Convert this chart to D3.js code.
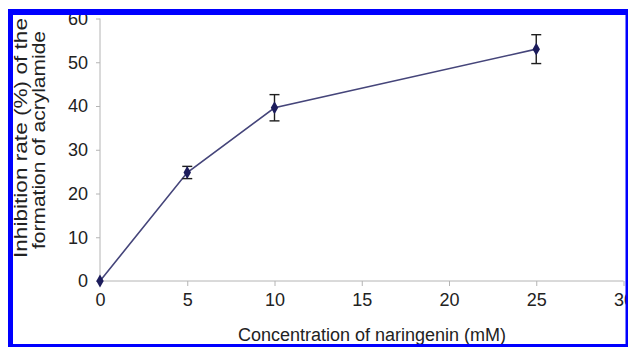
<!DOCTYPE html>
<html>
<head>
<meta charset="utf-8">
<script src="https://cdn.jsdelivr.net/npm/d3@7"></script>
<style>
  body { margin: 0; background: #fff; }
  text { font-family: "Liberation Sans", Arial, sans-serif; fill: #222; }
</style>
</head>
<body>
<div class="container"></div>
<script>
const concentrations = [0, 5, 10, 25]
const inhibition = [0, 24.8, 39.6, 53.0]
const errors = [0, 1.4, 3.0, 3.3]
const xTicks = [0, 5, 10, 15, 20, 25, 30]
const yTicks = [0, 10, 20, 30, 40, 50, 60]
const xTitle = "Concentration of naringenin (mM)"
const yTitle = ["Inhibition rate (%) of the", "formation of acrylamide"]

const width = 628
const height = 347

const dataSet = concentrations.map((c, i) => ({ x: c, y: inhibition[i], err: errors[i] }))

const svg = d3.select(".container").append("svg")
    .attr("width", width)
    .attr("height", height)

const xScale = d3.scaleLinear()
                .domain([0, 30])
                .range([100, 623.5])

const yScale = d3.scaleLinear()
                .domain([0, 60])
                .range([281, 18.5])

const axisColor = "#b4b4b4"

// axes
const xAxis = d3.axisBottom(xScale).tickValues(xTicks).tickSize(5).tickPadding(7)
const yAxis = d3.axisLeft(yScale).tickValues(yTicks).tickSize(4).tickPadding(8)

const gx = svg.append("g")
    .attr("id", "x-axis")
    .attr("transform", `translate(0,${yScale(0)})`)
    .call(xAxis)

const gy = svg.append("g")
    .attr("id", "y-axis")
    .attr("transform", `translate(${xScale(0)},0)`)
    .call(yAxis)

gx.select(".domain").attr("stroke", axisColor).attr("d", `M${xScale(0)},0H${xScale(30)}`)
gy.select(".domain").attr("stroke", axisColor).attr("d", `M0,${yScale(0)}V${yScale(60)}`)
svg.selectAll(".tick line").attr("stroke", axisColor)
svg.selectAll(".tick text")
    .attr("fill", "#222")
    .style("font-size", "18px")
    .style("font-family", "'Liberation Sans', Arial, sans-serif")

// axis titles
svg.append("text")
    .attr("x", 372)
    .attr("y", 341)
    .attr("text-anchor", "middle")
    .style("font-size", "18px")
    .text(xTitle)

svg.selectAll(".ytitle")
    .data(yTitle)
    .enter()
    .append("text")
    .attr("class", "ytitle")
    .attr("transform", (d, i) => `translate(${27 + i * 18},${138 + i * 2}) rotate(-90)`)
    .attr("text-anchor", "middle")
    .attr("textLength", (d, i) => i == 0 ? 240 : 218)
    .attr("lengthAdjust", "spacingAndGlyphs")
    .style("font-size", "18px")
    .text(d => d)

// series line
const line = d3.line()
    .x(d => xScale(d.x))
    .y(d => yScale(d.y))

svg.append("path")
    .datum(dataSet)
    .attr("d", line)
    .attr("fill", "none")
    .attr("stroke", "#45457a")
    .attr("stroke-width", 1.6)

// error bars
const bars = svg.selectAll(".err")
    .data(dataSet.filter(d => d.err > 0))
    .enter()
    .append("g")
    .attr("class", "err")
    .attr("stroke", "#1e1e1e")
    .attr("stroke-width", 1.4)

bars.append("line")
    .attr("x1", d => xScale(d.x))
    .attr("x2", d => xScale(d.x))
    .attr("y1", d => yScale(d.y + d.err))
    .attr("y2", d => yScale(d.y - d.err))

bars.append("line")
    .attr("x1", d => xScale(d.x) - 5)
    .attr("x2", d => xScale(d.x) + 5)
    .attr("y1", d => yScale(d.y + d.err))
    .attr("y2", d => yScale(d.y + d.err))

bars.append("line")
    .attr("x1", d => xScale(d.x) - 5)
    .attr("x2", d => xScale(d.x) + 5)
    .attr("y1", d => yScale(d.y - d.err))
    .attr("y2", d => yScale(d.y - d.err))

// markers
svg.selectAll(".pt")
    .data(dataSet)
    .enter()
    .append("path")
    .attr("class", "pt")
    .attr("d", d3.symbol(d3.symbolDiamond, 48))
    .attr("transform", d => `translate(${xScale(d.x)},${yScale(d.y)})`)
    .attr("fill", "#1c1c5c")

// blue frame of the cropped figure
const frame = [
    { x: 8, y: 9, w: 5, h: 338 },
    { x: 8, y: 9, w: 620, h: 6 },
    { x: 625.5, y: 9, w: 2.5, h: 338 },
    { x: 8, y: 344, w: 620, h: 3 }
]
svg.selectAll(".frame")
    .data(frame)
    .enter()
    .append("rect")
    .attr("class", "frame")
    .attr("x", d => d.x)
    .attr("y", d => d.y)
    .attr("width", d => d.w)
    .attr("height", d => d.h)
    .attr("fill", "#0000ff")
</script>
</body>
</html>
